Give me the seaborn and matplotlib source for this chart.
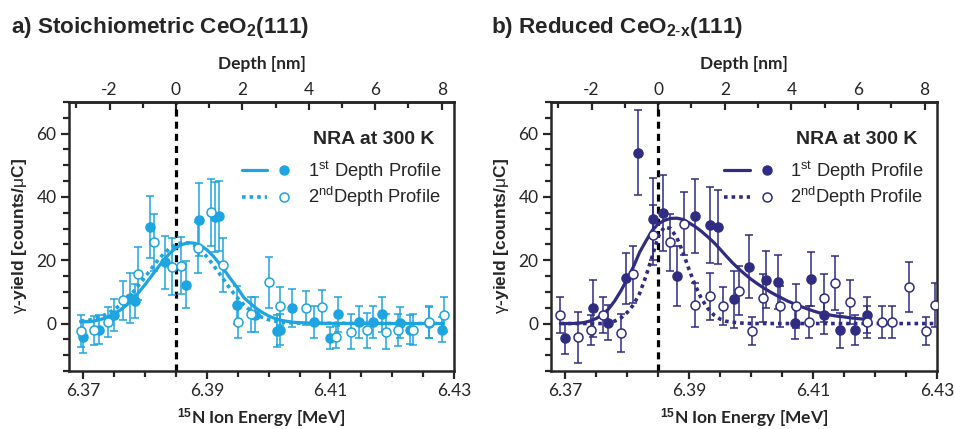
import numpy as np
import pandas as pd
import seaborn as sns
import matplotlib.pyplot as plt
from matplotlib.lines import Line2D
from matplotlib.legend_handler import HandlerTuple
from matplotlib.ticker import MultipleLocator


# ---- data ----
# a) stoichiometric, 1st profile (filled)
a1_energy = [6.3700, 6.3725, 6.3749, 6.3776, 6.3784, 6.3808, 6.3832, 6.3866, 6.3887, 6.3913, 6.3920, 6.3949, 6.3978,
             6.4014, 6.4019, 6.4038, 6.4073, 6.4100, 6.4112, 6.4147, 6.4169, 6.4183, 6.4212, 6.4228, 6.4259, 6.4280]
a1_yield = [-4.2, -1.9, 2.6, 8.1, 7.1, 30.4, 19.3, 12.3, 32.8, 33.6, 33.9, 5.9, 2.8,
            -2.3, -1.9, 5.0, 0.5, -4.7, 2.9, 0.5, 0.5, 2.9, 0.3, -1.9, 0.3, -1.9]
a1_err = [5, 4.5, 5, 7.8, 5.5, 9.8, 8.5, 7.4, 11.5, 11, 11, 6, 5.5,
          5, 5, 6, 5, 3.5, 5.5, 5, 5, 5.5, 5, 4.5, 5, 4]
# a) 2nd profile (open)
a2_energy = [6.3696, 6.3717, 6.3740, 6.3764, 6.3788, 6.3814, 6.3843, 6.3858, 6.3885, 6.3906, 6.3926, 6.3951, 6.3971,
             6.4000, 6.4019, 6.4060, 6.4087, 6.4109, 6.4134, 6.4159, 6.4190, 6.4210, 6.4234, 6.4259, 6.4283]
a2_yield = [-2.3, -2.1, 0.5, 7.3, 15.8, 25.7, 18.0, 18.2, 24.0, 35.1, 18.5, 0.5, 2.9,
            13.0, 5.4, 4.9, 5.2, -4.2, -2.6, -2.1, -2.6, -2.1, -1.9, 0.5, 2.8]
a2_err = [5, 4.6, 4.7, 6.2, 8.3, 9, 9, 9, 8, 10.5, 8.6, 5, 5.5,
          8, 6, 5.5, 5.5, 3.5, 5.5, 5.5, 5.5, 5, 5, 5, 5.5]
# a) fit curves
a1_fit_energy = [6.3696, 6.371, 6.372, 6.373, 6.374, 6.375, 6.376, 6.377, 6.378, 6.379, 6.380, 6.381, 6.382, 6.383,
                 6.384, 6.385, 6.386, 6.387, 6.388, 6.389, 6.390, 6.391, 6.392, 6.393, 6.394, 6.395, 6.396, 6.397,
                 6.398, 6.399, 6.400, 6.401, 6.402, 6.404, 6.407, 6.415, 6.4283]
a1_fit_yield = [0.5, 0.6, 0.9, 1.4, 2.1, 3.0, 4.3, 5.8, 7.7, 9.9, 12.3, 14.9, 17.5, 20.0,
                22.2, 23.9, 25.0, 25.5, 25.4, 24.7, 23.3, 21.4, 19.0, 16.4, 13.7, 11.1, 8.2, 6.4,
                4.8, 3.5, 2.4, 1.6, 1.0, 0.4, 0.1, 0.0, 0.0]
a2_fit_energy = [6.3696, 6.371, 6.372, 6.373, 6.374, 6.375, 6.376, 6.377, 6.378, 6.379, 6.380, 6.381, 6.382, 6.383,
                 6.384, 6.385, 6.386, 6.387, 6.388, 6.389, 6.390, 6.391, 6.392, 6.393, 6.394, 6.395, 6.396, 6.397,
                 6.398, 6.399, 6.400, 6.402, 6.405, 6.4283]
a2_fit_yield = [0.8, 1.1, 1.6, 2.3, 3.2, 4.4, 5.9, 7.7, 9.8, 12.2, 14.7, 17.3, 19.8, 22.0,
                23.8, 25.0, 25.6, 25.5, 24.7, 23.2, 21.1, 18.6, 15.9, 13.1, 10.4, 8.0, 5.9, 4.2,
                2.9, 1.9, 1.2, 0.4, 0.1, 0.0]

# b) reduced, 1st profile (filled)
b1_energy = [6.3700, 6.3745, 6.3769, 6.3798, 6.3818, 6.3842, 6.3858, 6.3880, 6.3910, 6.3933, 6.3947, 6.3973, 6.3997,
             6.4024, 6.4044, 6.4071, 6.4097, 6.4117, 6.4143, 6.4168, 6.4187]
b1_yield = [-4.7, 4.9, 0.3, 14.3, 54.0, 33.0, 34.9, 14.9, 34.0, 31.0, 30.5, 7.6, 18.0,
            13.8, 13.0, 0.2, 14.0, 2.8, -2.1, -2.1, 2.6]
b1_err = [5, 9, 5.5, 8, 13.5, 13, 12, 9.5, 11.7, 12, 11.7, 9, 10,
          9, 8.5, 5, 8.5, 6, 5.5, 4.7, 5.7]
# b) 2nd profile (open)
b2_energy = [6.3692, 6.3720, 6.3742, 6.3761, 6.3790, 6.3810, 6.3841, 6.3869, 6.3892, 6.3910, 6.3933, 6.3954, 6.3980,
             6.4001, 6.4020, 6.4046, 6.4073, 6.4094, 6.4117, 6.4136, 6.4159, 6.4187, 6.4211, 6.4228, 6.4255, 6.4282,
             6.4297]
b2_yield = [2.8, -4.4, -2.1, 2.8, -3.1, 15.6, 28.1, 25.7, 31.5, 5.9, 8.6, 5.5, 10.4,
            -2.3, 8.0, 5.5, 5.5, 0.5, 8.0, 12.8, 6.8, 0.5, 0.5, 0.5, 11.5, -2.4,
            5.9]
b2_err = [5.7, 8, 4.7, 5.7, 6, 9, 9.5, 9, 10, 7, 7.5, 6, 7.8,
          4.4, 7.5, 6.5, 7, 5, 7.5, 8.5, 7, 5, 5, 5, 7.8, 4.5,
          7]
# b) fit curves
b1_fit_energy = [6.3692, 6.371, 6.372, 6.373, 6.374, 6.375, 6.376, 6.377, 6.378, 6.379, 6.380, 6.381, 6.382, 6.383,
                 6.384, 6.385, 6.386, 6.387, 6.388, 6.389, 6.390, 6.391, 6.392, 6.393, 6.394, 6.395, 6.396, 6.397,
                 6.398, 6.399, 6.400, 6.401, 6.402, 6.403, 6.404, 6.405, 6.406, 6.407, 6.408, 6.409, 6.410, 6.411,
                 6.412, 6.413, 6.414, 6.415, 6.416, 6.417, 6.4181]
b1_fit_yield = [0.0, 0.0, 0.1, 0.3, 0.8, 1.6, 2.8, 4.6, 7.2, 10.4, 14.0, 17.9, 22.5, 26.0,
                29.3, 31.5, 32.6, 33.2, 33.3, 32.9, 31.8, 30.6, 29.1, 27.4, 25.6, 23.5, 21.3, 19.2,
                17.3, 15.6, 14.0, 12.6, 11.3, 10.1, 9.0, 8.0, 7.0, 6.2, 5.4, 4.7, 4.0, 3.4,
                3.0, 2.6, 2.3, 2.1, 1.8, 1.6, 1.4]
b2_fit_energy = [6.3692, 6.376, 6.377, 6.378, 6.379, 6.380, 6.381, 6.382, 6.383, 6.384, 6.385, 6.386, 6.387,
                 6.388, 6.389, 6.390, 6.391, 6.392, 6.393, 6.394, 6.395, 6.396, 6.398, 6.400, 6.4297]
b2_fit_yield = [0.0, 0.0, 0.3, 0.8, 1.8, 3.5, 5.9, 9.5, 14.8, 21.0, 27.5, 30.5, 30.0,
                27.2, 22.5, 17.0, 12.0, 7.8, 4.8, 2.7, 1.4, 0.7, 0.2, 0.0, 0.0]

E0 = 6.385          # depth zero (surface)
NM_PER_MEV = 186.0  # depth scale of the top axis

COLOR_A = "#1ea4e1"
COLOR_B = "#2f2c82"

sns.set_style("ticks")
plt.rcParams['font.family'] = ['Liberation Sans', 'DejaVu Sans']
plt.rcParams['mathtext.fontset'] = 'custom'
plt.rcParams['mathtext.rm'] = 'Liberation Sans'
plt.rcParams['mathtext.it'] = 'Liberation Sans:italic'
plt.rcParams['mathtext.bf'] = 'Liberation Sans:bold'

TICK_FONT = ['Lato', 'DejaVu Sans']


def depth_panel(ax, color, fit1, fit2, pts1, pts2):

	ax.axvline(E0, color="black", ls=(0, (2.2, 1.6)), lw=2.3, zorder=1)

	sns.lineplot(x=fit1[0], y=fit1[1], ax=ax, color=color, lw=2.3, sort=False, estimator=None, zorder=2)
	sns.lineplot(x=fit2[0], y=fit2[1], ax=ax, color=color, lw=2.6, ls=(0, (1, 1.1)), sort=False, estimator=None, zorder=2)

	for (e, y, err), face in [(pts1, color), (pts2, "white")]:
		ax.errorbar(e, y, yerr=err, fmt="none", ecolor=color, elinewidth=1.1, capsize=3, capthick=1.1, zorder=3)
		df = pd.DataFrame({"energy": e, "yield": y})
		sns.scatterplot(data=df, x="energy", y="yield", ax=ax, s=42, color=face, edgecolor=color,
			linewidth=1.1, zorder=4)

	ax.set_xlim(6.3677, 6.4300)
	ax.set_ylim(-15, 70)
	ax.set_xticks([6.37, 6.39, 6.41, 6.43])
	ax.set_xticklabels(["6.37", "6.39", "6.41", "6.43"])
	ax.xaxis.set_minor_locator(MultipleLocator(0.005))
	ax.set_yticks([0, 20, 40, 60])
	ax.yaxis.set_minor_locator(MultipleLocator(5))
	ax.tick_params(which="major", length=6, width=1.6, labelsize=12.5, pad=3)
	ax.tick_params(which="minor", length=4, width=1.6)
	ax.tick_params(axis="x", which="both", top=False)
	for lab in ax.get_xticklabels() + ax.get_yticklabels():
		lab.set_family(TICK_FONT)
	for sp in ax.spines.values():
		sp.set_linewidth(1.8)
		sp.set_visible(True)

	ax.set_xlabel(r"$^{\mathbf{15}}$N Ion Energy [MeV]", fontsize=12.5, fontweight="bold", family=TICK_FONT, labelpad=5)
	ax.set_ylabel(r"$\mathrm{\gamma}$-yield [counts/$\mathrm{\mu}$C]", fontsize=12.5, fontweight="bold", labelpad=5)

	sec = ax.secondary_xaxis("top", functions=(lambda e: (e - E0) * NM_PER_MEV, lambda d: d / NM_PER_MEV + E0))
	sec.set_xticks([-2, 0, 2, 4, 6, 8])
	sec.set_xticklabels(["-2", "0", "2", "4", "6", "8"])
	sec.xaxis.set_minor_locator(MultipleLocator(1))
	sec.tick_params(which="major", direction="in", length=6, width=1.6, labelsize=12.5, pad=3)
	sec.tick_params(which="minor", direction="in", length=4, width=1.6)
	for lab in sec.get_xticklabels():
		lab.set_family(TICK_FONT)
	sec.spines["top"].set_linewidth(1.8)
	sec.set_xlabel("Depth [nm]", fontsize=12.5, fontweight="bold", family=TICK_FONT, labelpad=9)

	ax.text(0.95, 0.86, "NRA at 300 K", transform=ax.transAxes, ha="right", va="center",
		fontsize=14, fontweight="bold")
	h1 = (Line2D([], [], color=color, lw=2.3), Line2D([], [], ls="none", marker="o", ms=6.5, color=color))
	h2 = (Line2D([], [], color=color, lw=2.6, ls=(0, (1, 1.1))),
		Line2D([], [], ls="none", marker="o", ms=6.5, mfc="white", mec=color, mew=1.1))
	ax.legend([h1, h2], [r"1$^{\rm st}$ Depth Profile", r"2$^{\rm nd}$Depth Profile"],
		handler_map={tuple: HandlerTuple(ndivide=None, pad=0.2)}, loc="upper right",
		bbox_to_anchor=(0.985, 0.815), frameon=False, fontsize=13.2, handlelength=3.0,
		handletextpad=0.6, labelspacing=0.12, borderaxespad=0)


fig = plt.figure(figsize=(9.55, 4.29), dpi=100)

ax_a = fig.add_axes([0.0723, 0.1352, 0.4031, 0.627])
depth_panel(ax_a, COLOR_A, (a1_fit_energy, a1_fit_yield), (a2_fit_energy, a2_fit_yield),
	(a1_energy, a1_yield, a1_err), (a2_energy, a2_yield, a2_err))

ax_b = fig.add_axes([0.577, 0.1352, 0.404, 0.627])
depth_panel(ax_b, COLOR_B, (b1_fit_energy, b1_fit_yield), (b2_fit_energy, b2_fit_yield),
	(b1_energy, b1_yield, b1_err), (b2_energy, b2_yield, b2_err))

fig.text(0.011, 0.935, r"a) Stoichiometric CeO$_\mathbf{2}$(111)", fontsize=16.2, fontweight="bold", va="center")
fig.text(0.514, 0.935, r"b) Reduced CeO$_\mathbf{2\text{-}x}$(111)", fontsize=16.2, fontweight="bold", va="center")

plt.savefig("out.png", dpi=100)
